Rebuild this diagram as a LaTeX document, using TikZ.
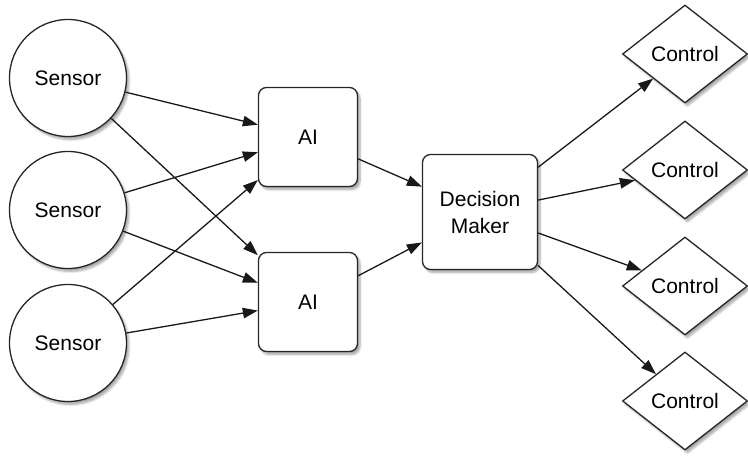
\documentclass[tikz,border=0pt]{standalone}
\usepackage{fontspec}
\setmainfont{Liberation Sans}
\usetikzlibrary{arrows.meta,shapes.geometric,shadows.blur}
\begin{document}
\begin{tikzpicture}[x=1pt,y=-1pt,
  every node/.style={font=\fontsize{21}{24}\selectfont, line width=1.3pt, draw=black!85, fill=white,
    blur shadow={shadow xshift=2.5pt, shadow yshift=-3pt, shadow blur steps=6, shadow opacity=35}},
  sensor/.style={circle, minimum size=117pt, inner sep=0pt},
  aibox/.style={rectangle, rounded corners=8pt, minimum width=99pt, minimum height=99pt, inner sep=0pt},
  dmbox/.style={rectangle, rounded corners=8pt, minimum width=115pt, minimum height=115pt, inner sep=0pt, align=center},
  ctrl/.style={diamond, minimum width=125pt, minimum height=98pt, inner sep=0pt},
  link/.style={line width=1.3pt, draw=black!90, -{Triangle[length=15pt,width=10.5pt]}}]
\useasboundingbox (0,0) rectangle (748,457);

% input sensors
\node[sensor] (s1) at (68,78) {Sensor};
\node[sensor] (s2) at (68,210) {Sensor};
\node[sensor] (s3) at (68,343) {Sensor};

% AI stages
\node[aibox] (a1) at (308,137) {AI};
\node[aibox] (a2) at (308,302) {AI};

% fusion
\node[dmbox] (dm) at (480,212) {Decision\\[3pt]Maker};

% outputs
\node[ctrl] (c1) at (685,54) {Control};
\node[ctrl] (c2) at (685,170) {Control};
\node[ctrl] (c3) at (685,286) {Control};
\node[ctrl] (c4) at (685,401) {Control};

% connections
\draw[link] (s1) -- (a1);
\draw[link] (s1) -- (a2);
\draw[link] (s2) -- (a1);
\draw[link] (s2) -- (a2);
\draw[link] (s3) -- (a1);
\draw[link] (s3) -- (a2);
\draw[link] (a1) -- (dm);
\draw[link] (a2) -- (dm);
\draw[link] (dm) -- (c1);
\draw[link] (dm) -- (c2);
\draw[link] (dm) -- (c3);
\draw[link] (dm) -- (c4);
\end{tikzpicture}
\end{document}
